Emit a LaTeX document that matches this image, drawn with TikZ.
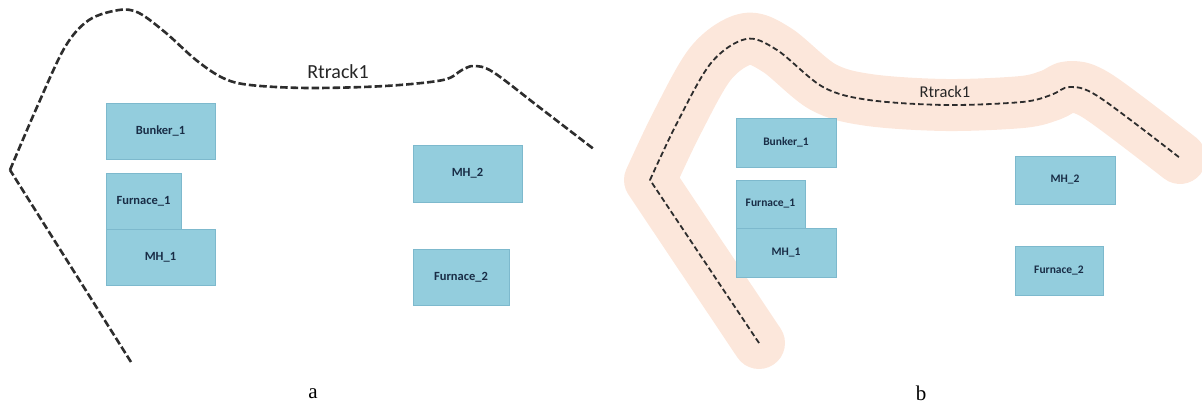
\documentclass[tikz,border=0pt]{standalone}
\usepackage{fontspec}
\setmainfont{Liberation Serif}
\newfontfamily\calib{Carlito}
\definecolor{boxfill}{RGB}{147,205,221}
\definecolor{boxline}{RGB}{125,185,205}
\definecolor{boxtext}{RGB}{25,45,70}
\definecolor{trackcol}{RGB}{45,45,45}
\definecolor{bandcol}{RGB}{252,231,219}
\tikzset{
  box/.style={draw=boxline, line width=0.6pt, fill=boxfill, text=boxtext, inner sep=0pt, font=\calib\bfseries\fontsize{12.5}{14}\selectfont},
  boxs/.style={box, font=\calib\bfseries\fontsize{11.5}{13}\selectfont},
  trackA/.style={draw=trackcol, line width=2.6pt, dash pattern=on 7.5pt off 3pt},
  trackB/.style={draw=trackcol, line width=1.8pt, dash pattern=on 5.5pt off 3pt},
  band/.style={draw=bandcol, line width=52pt, line cap=round, line join=round},
  tracklabel/.style={text=black!85, inner sep=0pt},
  panellabel/.style={inner sep=0pt, font=\fontsize{21}{24}\selectfont}
}
\begin{document}
\begin{tikzpicture}[x=1pt, y=-1pt]
\useasboundingbox (0,0) rectangle (1202,407);
% ---------- panel a ----------
\draw[trackA] (131,362) -- (10,170);
\draw[trackA] plot[smooth, tension=0.55] coordinates {(10,170) (37,107) (65,47) (89,20) (119,10) (139,13) (166,33) (196,60) (223,78) (250,85) (308,88) (385,86) (443,80) (462,70) (474,66) (493,72) (539,107) (595,150)};
\node[tracklabel, font=\calib\fontsize{20}{22}\selectfont] (rta) at (338,72) {Rtrack1};
\node[box, minimum width=109pt, minimum height=56pt] (bunkerA) at (160.5,131) {Bunker\_1};
\node[box, minimum width=75pt, minimum height=56pt] (furnA) at (143.5,201) {Furnace\_1};
\node[box, minimum width=109pt, minimum height=56pt] (mhA) at (160.5,257) {MH\_1};
\node[box, minimum width=109pt, minimum height=57pt] (mh2A) at (467.5,173.5) {MH\_2};
\node[box, minimum width=96pt, minimum height=56pt] (furn2A) at (461,277) {Furnace\_2};
\node[panellabel] (la) at (313,394) {a};
% ---------- panel b ----------
\draw[band] (759,343) -- (650,180) plot[smooth, tension=0.55] coordinates {(650,180) (677,123) (711,63) (746,39) (777,50) (823,87) (869,100) (946,105) (1022,102) (1051,95) (1070,87) (1099,97) (1180,158)};
\draw[trackB] (759,343) -- (650,180);
\draw[trackB] plot[smooth, tension=0.55] coordinates {(650,180) (677,123) (711,63) (746,39) (777,50) (823,87) (869,100) (946,105) (1022,102) (1051,95) (1070,87) (1099,97) (1180,158)};
\node[tracklabel, font=\calib\fontsize{16.5}{19}\selectfont] (rtb) at (945,92) {Rtrack1};
\node[boxs, minimum width=100pt, minimum height=49pt] (bunkerB) at (786,142.5) {Bunker\_1};
\node[boxs, minimum width=69pt, minimum height=48pt] (furnB) at (770.5,204) {Furnace\_1};
\node[boxs, minimum width=100pt, minimum height=49pt] (mhB) at (786,252.5) {MH\_1};
\node[boxs, minimum width=100pt, minimum height=48pt] (mh2B) at (1065,180) {MH\_2};
\node[boxs, minimum width=88pt, minimum height=49pt] (furn2B) at (1059,270.5) {Furnace\_2};
\node[panellabel] (lb) at (921,393) {b};
\end{tikzpicture}
\end{document}
